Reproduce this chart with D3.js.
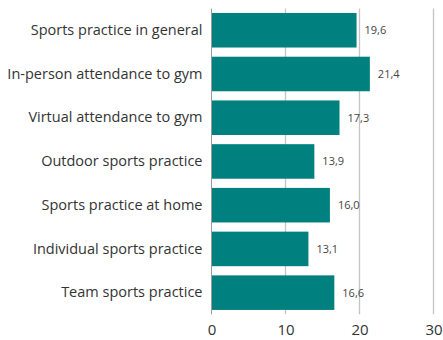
<!DOCTYPE html>
<html>
<head>
<meta charset="utf-8">
<script src="https://cdn.jsdelivr.net/npm/d3@7"></script>
<style>
  html, body { margin: 0; padding: 0; background: #fff; }
  svg { display: block; }
  text { font-family: "Open Sans", sans-serif; }
</style>
</head>
<body>
<svg id="chart" width="443" height="340"></svg>
<script>
// Share of respondents by type of sports activity (%)
const categories = [
  "Sports practice in general",
  "In-person attendance to gym",
  "Virtual attendance to gym",
  "Outdoor sports practice",
  "Sports practice at home",
  "Individual sports practice",
  "Team sports practice"
];
const values = [19.6, 21.4, 17.3, 13.9, 16.0, 13.1, 16.6];
const xTicks = [0, 10, 20, 30];

const svg = d3.select("#chart");
const x = d3.scaleLinear().domain([0, 30]).range([211.5, 433.5]);
const y = d3.scaleBand()
  .domain(categories)
  .range([8.6, 314.3])
  .paddingInner(0.21)
  .paddingOuter(0.1);

const fmt = v => d3.format(".1f")(v).replace(".", ",");

// vertical gridlines
svg.append("g").selectAll("line")
  .data(xTicks.filter(d => d !== 0))
  .join("line")
  .attr("x1", d => x(d)).attr("x2", d => x(d))
  .attr("y1", 8.6).attr("y2", 314.3)
  .attr("stroke", "#c4c4c4").attr("stroke-width", 1.3);

// bars
svg.append("g").selectAll("rect")
  .data(values)
  .join("rect")
  .attr("x", x(0))
  .attr("y", (d, i) => y(categories[i]))
  .attr("width", d => x(d) - x(0))
  .attr("height", y.bandwidth())
  .attr("fill", "#00807e");

// baseline at zero
svg.append("line")
  .attr("x1", x(0)).attr("x2", x(0))
  .attr("y1", 8.6).attr("y2", 314.3)
  .attr("stroke", "#9a9a9a").attr("stroke-width", 1);

// value labels
svg.append("g").selectAll("text")
  .data(values)
  .join("text")
  .attr("x", d => x(d) + 8)
  .attr("y", (d, i) => y(categories[i]) + y.bandwidth() / 2)
  .attr("dy", "0.35em")
  .attr("font-size", 11)
  .attr("fill", "#444")
  .text(fmt);

// category axis
const yAxis = d3.axisLeft(y).tickSize(0).tickPadding(9);
svg.append("g")
  .attr("transform", `translate(${x(0)},0)`)
  .call(yAxis)
  .call(g => g.select(".domain").remove())
  .call(g => g.selectAll("text")
    .attr("font-size", 14.5)
    .attr("fill", "#333")
    .style("font-family", "'Open Sans', sans-serif"));

// value axis
const xAxis = d3.axisBottom(x).tickValues(xTicks).tickSize(0).tickPadding(10).tickFormat(d3.format("d"));
svg.append("g")
  .attr("transform", "translate(0,314.3)")
  .call(xAxis)
  .call(g => g.select(".domain").remove())
  .call(g => g.selectAll("text")
    .attr("font-size", 15)
    .attr("fill", "#333")
    .style("font-family", "'Open Sans', sans-serif"));
</script>
</body>
</html>
